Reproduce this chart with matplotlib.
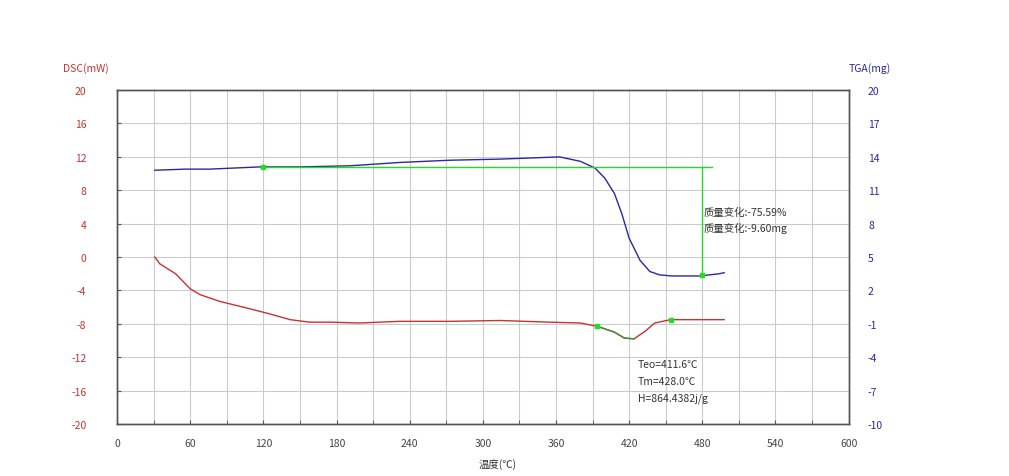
import numpy as np
import matplotlib.pyplot as plt
from matplotlib.ticker import MultipleLocator

plt.rcParams['font.family'] = ['Noto Sans CJK SC', 'DejaVu Sans']
plt.rcParams['axes.unicode_minus'] = False

# TGA curve (temperature C, mass mg)
tga_t = [31, 56, 76, 117, 150, 191, 232, 273, 314, 339, 363, 380, 392, 400, 408, 414, 420, 429, 437, 445, 455, 461, 478, 494, 498]
tga_m = [12.8, 12.9, 12.9, 13.1, 13.1, 13.2, 13.5, 13.7, 13.8, 13.9, 14.0, 13.6, 13.0, 12.1, 10.7, 8.9, 6.7, 4.7, 3.7, 3.4, 3.3, 3.3, 3.3, 3.5, 3.6]

# DSC curve (temperature C, mW)
dsc_t = [31, 35, 48, 60, 68, 84, 109, 125, 142, 158, 175, 199, 232, 273, 314, 355, 380, 394, 408, 416, 424, 433, 441, 454, 478, 498]
dsc_v = [0.0, -0.8, -2.0, -3.8, -4.5, -5.3, -6.2, -6.8, -7.5, -7.8, -7.8, -7.9, -7.7, -7.7, -7.6, -7.8, -7.9, -8.3, -9.0, -9.7, -9.8, -8.9, -7.9, -7.5, -7.5, -7.5]

x_ticks = list(range(0, 601, 60))
dsc_ticks = list(range(-20, 21, 4))
tga_ticks = list(range(-10, 21, 3))

red = '#c83232'
blue = '#2828a8'
green = '#22dd22'

fig = plt.figure(figsize=(10.09, 4.77), dpi=100)
ax = fig.add_axes([0.116, 0.109, 0.725, 0.700])
ax2 = ax.twinx()

ax.set_xlim(0, 600)
ax.set_ylim(-20, 20)
ax2.set_ylim(-10, 20)
ax.set_xticks(x_ticks)
ax.xaxis.set_minor_locator(MultipleLocator(30))
ax.set_yticks(dsc_ticks)
ax2.set_yticks(tga_ticks)
ax.grid(True, which='both', color='#cccccc', lw=0.8)
ax.set_axisbelow(True)

for a in (ax, ax2):
    for s in a.spines.values():
        s.set_color('#555555')
        s.set_linewidth(1.0)

ax.tick_params(axis='x', which='both', direction='in', length=3, colors='#555555',
               labelcolor='#444444', labelsize=7.5, pad=10)
ax.tick_params(axis='y', direction='in', length=3, colors='#555555',
               labelcolor=red, labelsize=7.5, pad=22)
ax2.tick_params(axis='y', direction='in', length=0, labelcolor=blue, labelsize=7.5, pad=14)

ax.plot(dsc_t, dsc_v, color=red, lw=1.0)
ax2.plot(tga_t, tga_m, color=blue, lw=1.0)

# TGA mass change markers
m0 = 13.1
m1 = 3.4
ax2.plot([120, 488], [m0, m0], color=green, lw=1.0)
ax2.plot([480, 480], [m0, m1], color=green, lw=1.0)
ax2.plot([120, 480], [m0, m1], 's', color=green, ms=3.5, mec=green)
ax2.text(481, 9.1, '质量变化:-75.59%', fontsize=7.5, color='#333333', va='center')
ax2.text(481, 7.7, '质量变化:-9.60mg', fontsize=7.5, color='#333333', va='center')

# DSC peak markers
seg = [i for i, t in enumerate(dsc_t) if 394 <= t <= 424]
ax.plot([dsc_t[i] for i in seg], [dsc_v[i] for i in seg], color='#339933', lw=1.0)
ax.plot([394, 454], [-8.3, -7.5], 's', color=green, ms=3.5, mec=green)
ax.text(427, -12.8, 'Teo=411.6℃', fontsize=7.5, color='#333333', va='center')
ax.text(427, -14.8, 'Tm=428.0℃', fontsize=7.5, color='#333333', va='center')
ax.text(427, -16.8, 'H=864.4382j/g', fontsize=7.5, color='#333333', va='center')

fig.text(0.085, 0.857, 'DSC(mW)', color=red, fontsize=7.5, ha='center', va='center')
fig.text(0.862, 0.857, 'TGA(mg)', color=blue, fontsize=7.5, ha='center', va='center')
fig.text(0.493, 0.027, '温度(℃)', color='#333333', fontsize=7.5, ha='center', va='center')

fig.savefig('out.png', dpi=100)
